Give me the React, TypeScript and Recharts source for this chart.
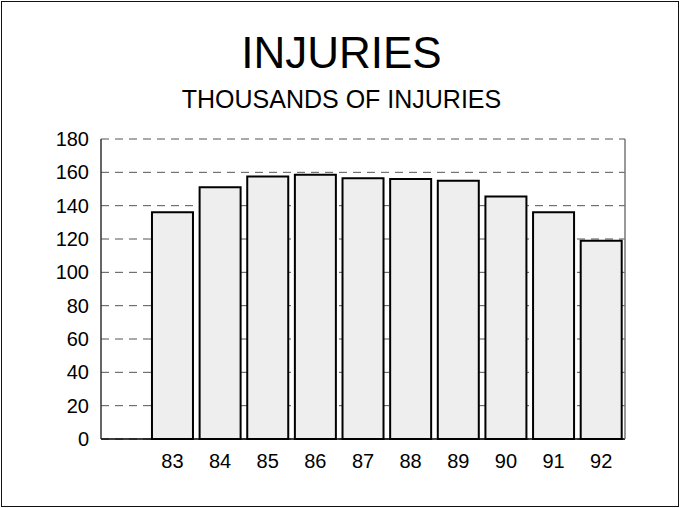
import React from 'react';
import { BarChart, Bar, XAxis, YAxis, CartesianGrid } from 'recharts';

const years = ['', '83', '84', '85', '86', '87', '88', '89', '90', '91', '92'];
const injuries = [null, 136, 151, 157.5, 158.5, 156.5, 156, 155, 145.5, 136, 119];
const yTicks = [0, 20, 40, 60, 80, 100, 120, 140, 160, 180];

const data = years.map((year, i) => ({ year, injuries: injuries[i] }));

const FONT = '"Liberation Sans", Arial, Helvetica, sans-serif';
const tickStyle = { fontSize: 20, fill: '#000', fontFamily: FONT };

export default function App() {
  return (
    <div style={{ position: 'absolute', left: 0, top: 0, width: 680, height: 508, background: '#fff', fontFamily: FONT }}>
      <div
        style={{
          position: 'absolute', left: 1, top: 1, width: 678, height: 506,
          boxSizing: 'border-box', border: '1.5px solid #111',
        }}
      />
      <div style={{ position: 'absolute', left: 0, top: 31, width: 683, textAlign: 'center', fontSize: 44, lineHeight: '44px', color: '#000' }}>
        INJURIES
      </div>
      <div style={{ position: 'absolute', left: 0, top: 87, width: 683, textAlign: 'center', fontSize: 25, lineHeight: '25px', color: '#000' }}>
        THOUSANDS OF INJURIES
      </div>
      <div style={{ position: 'absolute', left: 0, top: 0 }}>
        <BarChart
          width={680}
          height={508}
          data={data}
          margin={{ top: 139, right: 55, bottom: 0, left: 0 }}
          barCategoryGap="7%"
        >
          <CartesianGrid vertical={false} stroke="#555" strokeDasharray="8 6" yAxisId="left" />
          <XAxis
            dataKey="year"
            height={69}
            tickLine={false}
            tickSize={0}
            tickMargin={15}
            axisLine={{ stroke: '#000', strokeWidth: 1.5 }}
            tick={tickStyle}
            interval={0}
          />
          <YAxis
            yAxisId="left"
            width={101}
            domain={[0, 180]}
            ticks={yTicks}
            tickLine={false}
            tickSize={0}
            tickMargin={12}
            axisLine={{ stroke: '#333', strokeWidth: 1.5 }}
            tick={tickStyle}
          />
          <YAxis
            yAxisId="right"
            orientation="right"
            width={20}
            domain={[0, 180]}
            ticks={yTicks}
            mirror
            tick={false}
            tickSize={4}
            axisLine={{ stroke: '#777', strokeWidth: 1.5 }}
            tickLine={{ stroke: '#777' }}
          />
          <Bar
            yAxisId="left"
            dataKey="injuries"
            fill="#eeeeee"
            stroke="#000"
            strokeWidth={2}
            isAnimationActive={false}
          />
        </BarChart>
      </div>
    </div>
  );
}
